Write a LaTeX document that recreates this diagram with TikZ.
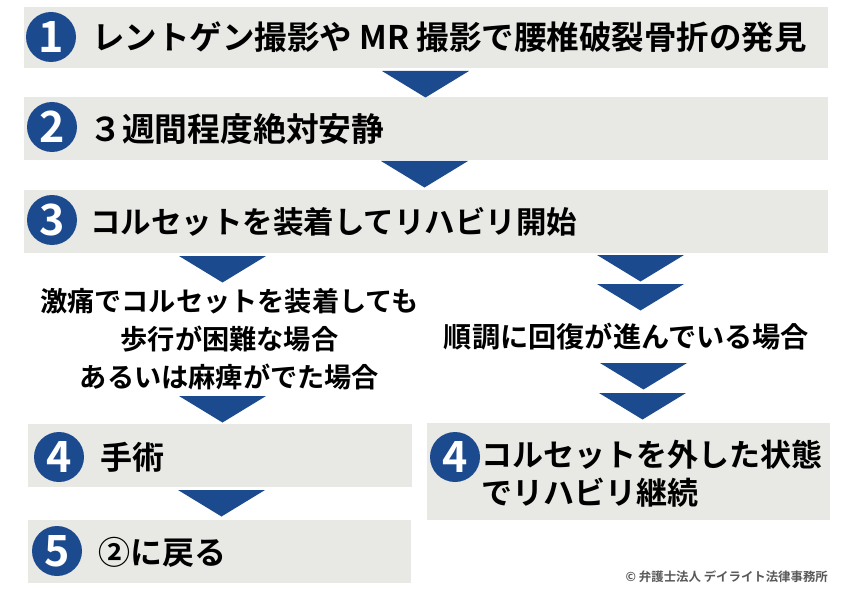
\documentclass[tikz,border=0pt]{standalone}
\usepackage{fontspec}
\setmainfont{Noto Sans CJK JP}[BoldFont={Noto Sans CJK JP Bold}]
\definecolor{stepnavy}{HTML}{1C4A8E}
\definecolor{stepgray}{HTML}{E8E8E4}
\tikzset{
	stepbar/.style={fill=stepgray, draw=none},
	stepnum/.style={circle, fill=stepnavy, text=white, minimum size=50pt, inner sep=0pt, font=\fontsize{43}{43}\selectfont\bfseries},
	steptext/.style={anchor=west, inner sep=0pt, font=\fontsize{32}{38}\selectfont\bfseries},
	casetext/.style={align=center, inner sep=0pt, font=\fontsize{27.2}{38}\selectfont\bfseries},
}
\begin{document}
\begin{tikzpicture}[x=1pt, y=-1pt]
		\useasboundingbox (0, 0) rectangle (850, 596);
		\fill[white] (0, 0) rectangle (850, 596);
		\fill[stepbar] (24, 7) rectangle (828, 68);
		\fill[stepbar] (24, 97) rectangle (828, 160);
		\fill[stepbar] (24, 190) rectangle (828, 253);
		\fill[stepbar] (28, 424) rectangle (412, 487);
		\fill[stepbar] (28, 520) rectangle (411, 583);
		\fill[stepbar] (427, 423) rectangle (830, 520);
		\foreach \x/\y in {382/71, 381/161, 179/256, 597/255, 597/284, 600/363, 599/393, 179/396, 178/490} {
			\fill[stepnavy] (\x, \y) -- ++(87, 0) -- ++(-43.5, 26.5) -- cycle;
		};
		\node[stepnum] (numa) at (51, 37) {1};
		\node[stepnum] (numb) at (52, 127) {2};
		\node[stepnum] (numc) at (52, 220) {3};
		\node[stepnum] (numd) at (59, 457) {4};
		\node[stepnum] (nume) at (57, 551) {5};
		\node[stepnum] (numf) at (455, 457) {4};
		\node[steptext, font=\fontsize{32.5}{38}\selectfont\bfseries] (finding) at (92, 37) {レントゲン撮影や MR 撮影で腰椎破裂骨折の発見};
		\node[steptext, font=\fontsize{32.8}{38}\selectfont\bfseries] (rest) at (89, 129) {３週間程度絶対安静};
		\node[steptext, font=\fontsize{30.5}{38}\selectfont\bfseries] (corset) at (90, 222) {コルセットを装着してリハビリ開始};
		\node[casetext] (severe) at (229.5, 339) {激痛でコルセットを装着しても\\歩行が困難な場合\\あるいは麻痺がでた場合};
		\node[casetext, font=\fontsize{28.2}{38}\selectfont\bfseries] (smooth) at (626.5, 337) {順調に回復が進んでいる場合};
		\node[steptext] (surgery) at (100, 457) {手術};
		\node[steptext] (back) at (98, 552) {②に戻る};
		\node[steptext, align=left, font=\fontsize{31}{38}\selectfont\bfseries] (rehab) at (481, 474) {コルセットを外した状態\\でリハビリ継続};
		\node[anchor=east, inner sep=0pt, text=black!65, font=\fontsize{12.4}{14}\selectfont\bfseries] (credit) at (828, 577) {© 弁護士法人 デイライト法律事務所};
	\end{tikzpicture}
\end{document}
